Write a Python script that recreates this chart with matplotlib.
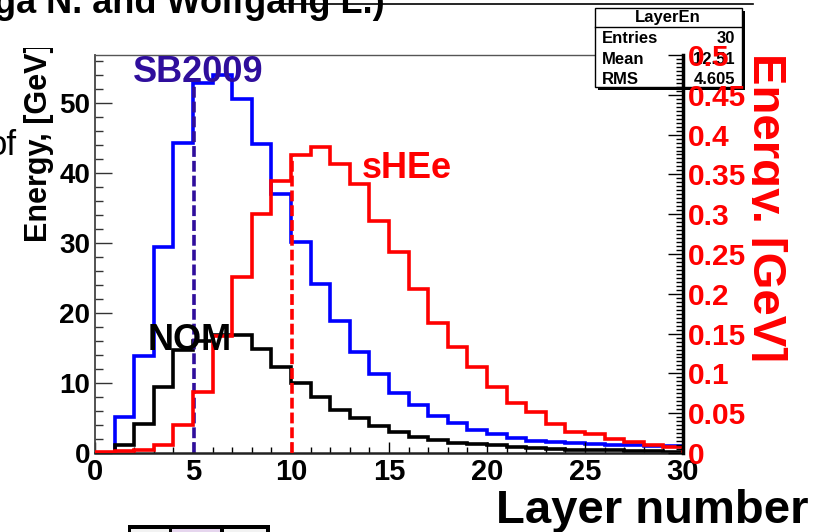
import numpy as np
import matplotlib
matplotlib.use('Agg')
import matplotlib.pyplot as plt
from matplotlib.patches import Rectangle
from matplotlib.lines import Line2D
from matplotlib.transforms import Bbox, TransformedBbox
from matplotlib.ticker import MultipleLocator, FuncFormatter

plt.rcParams['font.family'] = ['Liberation Sans', 'DejaVu Sans']
plt.rcParams['font.weight'] = 'bold'

# bin edges: layer number 0..30
edges = np.arange(0, 31)

# energy per layer [GeV], left axis
sb2009 = [0, 5.2, 13.9, 29.4, 44.3, 52.9, 54.0, 50.6, 44.1, 37.0,
          30.1, 24.1, 18.9, 14.5, 11.3, 8.6, 6.8, 5.3, 4.3, 3.3,
          2.7, 2.1, 1.7, 1.6, 1.4, 1.3, 1.2, 1.1, 1.0, 1.0]
nom = [0, 1.1, 4.1, 9.4, 14.7, 16.0, 16.8, 16.9, 14.9, 12.3,
       10.0, 8.0, 6.2, 5.0, 3.9, 3.0, 2.3, 1.9, 1.5, 1.3,
       1.1, 0.9, 0.7, 0.6, 0.5, 0.4, 0.4, 0.3, 0.3, 0.2]

# energy per layer [GeV], right axis
shee = [0.001, 0.002, 0.004, 0.010, 0.035, 0.077, 0.147, 0.221, 0.300, 0.342,
        0.374, 0.384, 0.363, 0.338, 0.292, 0.253, 0.206, 0.163, 0.133, 0.108,
        0.083, 0.063, 0.052, 0.036, 0.026, 0.024, 0.018, 0.014, 0.010, 0.008]

sb2009_mean = 5.07
shee_mean = 10.07

stat_title = 'LayerEn'
stat_names = ['Entries', 'Mean', 'RMS']
stat_values = ['30', '12.51', '4.605']

W, H = 827, 532


def fx(x):
    return x / W


def fy(y):
    return 1 - y / H


fig = plt.figure(figsize=(8.27, 5.32), dpi=100)
fig.patch.set_facecolor('white')
ax = fig.add_axes([fx(95), fy(453), fx(683 - 95), (453 - 55) / H])
ax2 = ax.twinx()

indigo = '#2f0e9c'
dash = (0, (3.0, 1.1))
lw = 2.6

ax.stairs(sb2009, edges, color='#0000ff', lw=lw)
ax.stairs(nom, edges, color='black', lw=lw)
ax.vlines(sb2009_mean, 0, sb2009[int(sb2009_mean)], colors=indigo, lw=lw, linestyles=dash)

ax2.stairs(shee, edges, color='#ff0000', lw=lw)
ax2.vlines(shee_mean, 0, shee[int(shee_mean)], colors='#ff0000', lw=lw, linestyles=dash)

ax.set_xlim(0, 30)
ax.set_ylim(0, 398 / 7)
ax2.set_ylim(0, 0.5)

# x axis
ax.xaxis.set_major_locator(MultipleLocator(5))
ax.xaxis.set_minor_locator(MultipleLocator(1))
ax.tick_params(axis='x', which='major', direction='in', length=8, width=1,
               pad=3.5, labelsize=21, top=False)
ax.tick_params(axis='x', which='minor', direction='in', length=4.5, width=1, top=False)

# left axis
ax.yaxis.set_major_locator(MultipleLocator(10))
ax.yaxis.set_minor_locator(MultipleLocator(2))
ax.tick_params(axis='y', which='major', direction='in', length=12, width=1,
               pad=3.5, labelsize=20, right=False, color='#333333')
ax.tick_params(axis='y', which='minor', direction='in', length=6, width=1,
               right=False, color='#333333')

# right axis
ax2.yaxis.set_major_locator(MultipleLocator(0.05))
ax2.yaxis.set_minor_locator(MultipleLocator(0.005))
ax2.yaxis.set_major_formatter(FuncFormatter(lambda v, p: f'{v:g}'))
ax2.tick_params(axis='y', which='major', direction='in', length=11, width=1,
                pad=3.5, labelsize=21.5, labelcolor='#ff0000', left=False)
ax2.tick_params(axis='y', which='minor', direction='in', length=5, width=1, left=False)

ax.spines['right'].set_visible(False)
ax.spines['top'].set_color('#555555')
ax.spines['top'].set_linewidth(1)
ax.spines['left'].set_color('#444444')
ax.spines['left'].set_linewidth(1.3)
ax.spines['bottom'].set_color('#222222')
ax.spines['bottom'].set_linewidth(1.8)
for s in ['top', 'left', 'bottom']:
    ax2.spines[s].set_visible(False)
ax2.spines['right'].set_color('black')
ax2.spines['right'].set_linewidth(2.5)

# stats box (above the frame, below the right axis)
tf = fig.transFigure
ax.add_patch(Rectangle((fx(598), fy(90)), fx(147), (90 - 11) / H, transform=tf,
                       facecolor='black', edgecolor='none', clip_on=False, zorder=19))
ax.add_patch(Rectangle((fx(595), fy(87)), fx(147), (87 - 8) / H, transform=tf,
                       facecolor='white', edgecolor='black', lw=1, clip_on=False, zorder=20))
ax.add_artist(Line2D([fx(595), fx(742)], [fy(27), fy(27)], transform=tf,
                     color='black', lw=1, clip_on=False, zorder=21))
ax.text(fx(668), fy(22), stat_title, transform=tf, ha='center', va='baseline',
        fontsize=12, zorder=22, clip_on=False)
for i, (name, val) in enumerate(zip(stat_names, stat_values)):
    yb = 43 + 20.5 * i
    ax.text(fx(602), fy(yb), name, transform=tf, ha='left', va='baseline',
            fontsize=12, zorder=22, clip_on=False)
    ax.text(fx(735), fy(yb), val, transform=tf, ha='right', va='baseline',
            fontsize=12, zorder=22, clip_on=False)

# labels
fig.text(fx(133), fy(82), 'SB2009', color=indigo, fontsize=26, ha='left', va='baseline')
fig.text(fx(148), fy(350), 'NOM', color='black', fontsize=26, ha='left', va='baseline')
fig.text(fx(362), fy(178), 'sHEe', color='#ff0000', fontsize=26, ha='left', va='baseline')

fig.text(fx(809), fy(523), 'Layer number', fontsize=34, ha='right', va='baseline')

ylab = fig.text(fx(47), fy(242), 'Energy, [GeV]', rotation=90, rotation_mode='anchor',
                ha='left', va='baseline', fontsize=22)
ylab.set_clip_box(TransformedBbox(Bbox.from_extents(0, 0, 1, fy(48)), tf))
ylab.set_clip_on(True)

ylab2 = fig.text(fx(753), fy(53), 'Energy. [GeV]', rotation=270, rotation_mode='anchor',
                 ha='left', va='baseline', fontsize=34, color='#ff0000')
ylab2.set_clip_box(TransformedBbox(Bbox.from_extents(fx(752), 0, 1, 1), tf))
ylab2.set_clip_on(True)

fig.text(fx(17), fy(155), 'of', fontsize=25, fontweight='normal', ha='right', va='baseline')

# cut-off title and pad pieces
fig.text(fx(-6), fy(13), 'ga N. and Wolfgang L.)', fontsize=26, ha='left', va='baseline')
fig.add_artist(Line2D([fx(280), fx(753)], [fy(4), fy(4)], transform=tf, color='black', lw=1.2))

fig.add_artist(Rectangle((fx(128), fy(533)), fx(142), 8 / H, transform=tf,
                         facecolor='black', edgecolor='none'))
for x0, x1, c in [(131, 169, '#f2f2f2'), (172, 220, '#e6d6ee'), (224, 266, '#f2f2f2')]:
    fig.add_artist(Rectangle((fx(x0), fy(534)), fx(x1 - x0), 5 / H, transform=tf,
                             facecolor=c, edgecolor='none'))

fig.savefig('out.png', dpi=100)
